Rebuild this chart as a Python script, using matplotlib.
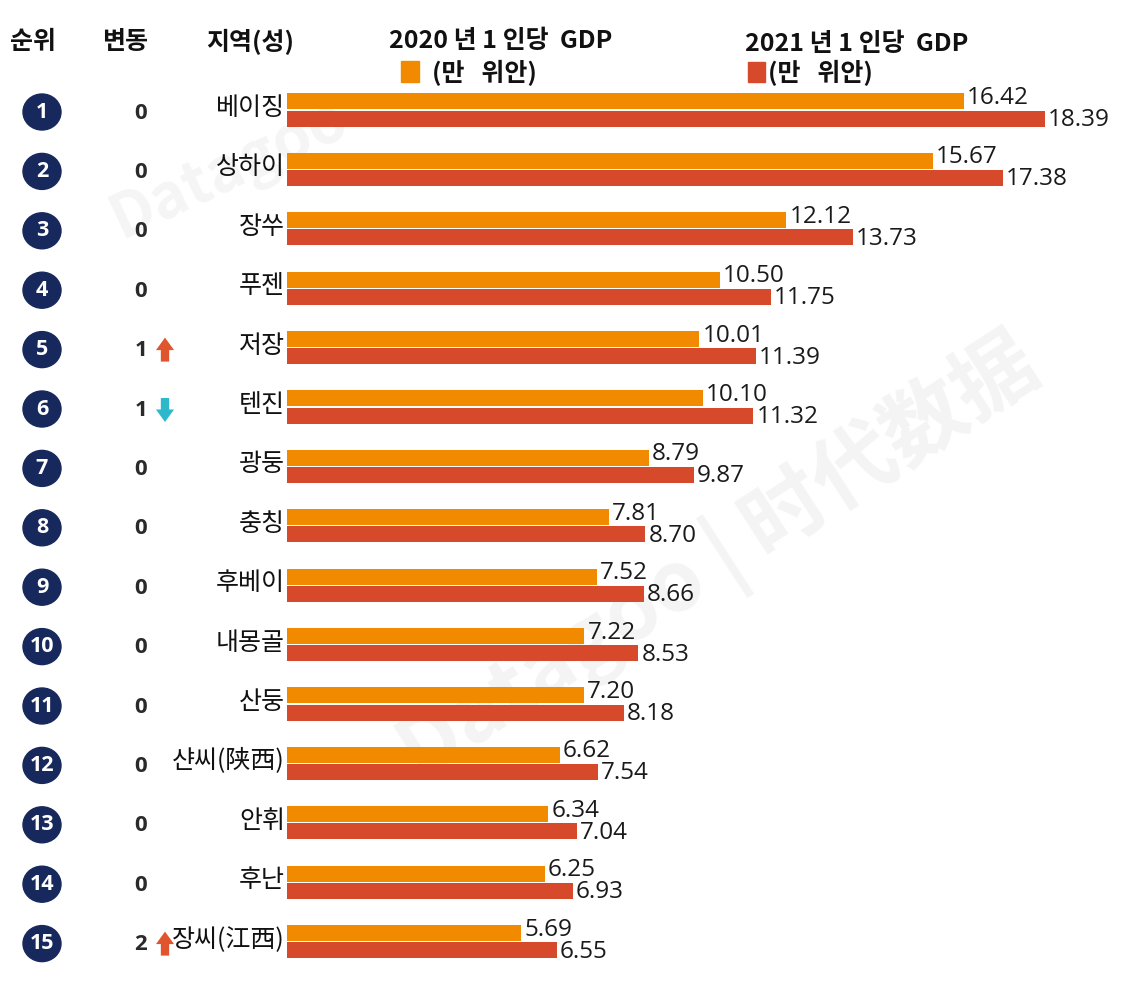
import matplotlib
matplotlib.use('Agg')
import matplotlib.pyplot as plt
from matplotlib.patches import Ellipse, Rectangle

plt.rcParams['font.family'] = ['Noto Sans CJK KR', 'DejaVu Sans']
NUM_FONT = ['Open Sans', 'Noto Sans', 'DejaVu Sans']

# ---- data -------------------------------------------------------------
ranks = list(range(1, 16))
change = [0, 0, 0, 0, 1, 1, 0, 0, 0, 0, 0, 0, 0, 0, 2]
direction = ['', '', '', '', 'up', 'down', '', '', '', '', '', '', '', '', 'up']
regions = ['베이징', '상하이', '장쑤', '푸젠', '저장', '텐진', '광둥', '충칭', '후베이',
           '내몽골', '산둥', '샨씨(陕西)', '안휘', '후난', '장씨(江西)']
gdp_2020 = [16.42, 15.67, 12.12, 10.50, 10.01, 10.10, 8.79, 7.81, 7.52,
            7.22, 7.20, 6.62, 6.34, 6.25, 5.69]
gdp_2021 = [18.39, 17.38, 13.73, 11.75, 11.39, 11.32, 9.87, 8.70, 8.66,
            8.53, 8.18, 7.54, 7.04, 6.93, 6.55]
col_headers = ['순위', '변동', '지역(성)']
series_titles = ['2020 년 1 인당  GDP', '2021 년 1 인당  GDP']
unit_label = '(만   위안)'

C_2020 = '#F28A00'
C_2021 = '#D6492A'
C_NAVY = '#17285C'
C_UP = '#E0552E'
C_DOWN = '#2DB8CC'

# ---- layout: one axes covering the whole figure -----------------------
W, H = 1121, 989
X0, SX = 287.0, 41.2       # pixel of value 0, pixels per unit
Y0, SY = 110.0, 59.4       # pixel of first row centre, pixels per row


def px(x):
    return (x - X0) / SX


def py(y):
    return (y - Y0) / SY


fig = plt.figure(figsize=(W / 100, H / 100), dpi=100)
ax = fig.add_axes([0, 0, 1, 1])
ax.set_xlim(px(0), px(W))
ax.set_ylim(py(H), py(0))
ax.axis('off')

# faint watermark
ax.text(px(720), py(560), 'Datagoo | 时代数据', fontsize=60, color='#f4f4f4',
        rotation=33, ha='center', va='center', zorder=0, fontweight='bold')
ax.text(px(230), py(170), 'Datagoo', fontsize=44, color='#f5f5f5',
        rotation=25, ha='center', va='center', zorder=0, fontweight='bold')

bh = 16 / SY
off = 8.6 / SY
rows = range(len(regions))
y2020 = [i - off for i in rows]
y2021 = [i + off for i in rows]
ax.barh(y2020, gdp_2020, height=bh, color=C_2020, zorder=2)
ax.barh(y2021, gdp_2021, height=bh, color=C_2021, zorder=2)

for i in rows:
    ax.text(gdp_2020[i] + 3 / SX, i - 12 / SY, f'{gdp_2020[i]:.2f}', fontsize=17.5,
            color='#1a1a1a', ha='left', va='center', family=NUM_FONT, zorder=3)
    ax.text(gdp_2021[i] + 3 / SX, i + 10 / SY, f'{gdp_2021[i]:.2f}', fontsize=17.5,
            color='#1a1a1a', ha='left', va='center', family=NUM_FONT, zorder=3)
    # rank badge
    ax.add_patch(Ellipse((px(42), i + 2 / SY), 38 / SX, 36 / SY, color=C_NAVY, zorder=3))
    ax.text(px(42), i + 2 / SY, str(ranks[i]), fontsize=15.5, color='white',
            fontweight='bold', ha='center', va='center', family=NUM_FONT, zorder=4)
    # change
    ax.text(px(141), i + 3 / SY, str(change[i]), fontsize=16, color='#2a2a2a',
            fontweight='bold', ha='center', va='center', family=NUM_FONT)
    if direction[i]:
        c = C_UP if direction[i] == 'up' else C_DOWN
        y_tip, y_tail = (i - 10 / SY, i + 14 / SY) if direction[i] == 'up' else (i + 15 / SY, i - 9 / SY)
        ax.annotate('', xy=(px(165), y_tip), xytext=(px(165), y_tail),
                    arrowprops=dict(arrowstyle='simple,head_width=1.3,head_length=0.9,tail_width=0.6',
                                    color=c, lw=0, shrinkA=0, shrinkB=0))
    # region label
    ax.text(px(285), i - 2 / SY, regions[i], fontsize=18, color='#111111',
            ha='right', va='center')

# column headers
for x, t in zip([33, 125, 250], col_headers):
    ax.text(px(x), py(42), t, fontsize=18, fontweight='bold', color='#111111',
            ha='center', va='center')

# legend / series titles
ax.text(px(501), py(41), series_titles[0], fontsize=18, fontweight='bold',
        color='#111111', ha='center', va='center')
ax.text(px(857), py(44), series_titles[1], fontsize=18, fontweight='bold',
        color='#111111', ha='center', va='center')
ax.add_patch(Rectangle((px(401), py(61)), 18 / SX, 21 / SY, color=C_2020))
ax.add_patch(Rectangle((px(748), py(62)), 17 / SX, 20 / SY, color=C_2021))
ax.text(px(432), py(73), unit_label, fontsize=18, fontweight='bold',
        color='#111111', ha='left', va='center')
ax.text(px(768), py(73), unit_label, fontsize=18, fontweight='bold',
        color='#111111', ha='left', va='center')

fig.savefig('out.png', dpi=100)
